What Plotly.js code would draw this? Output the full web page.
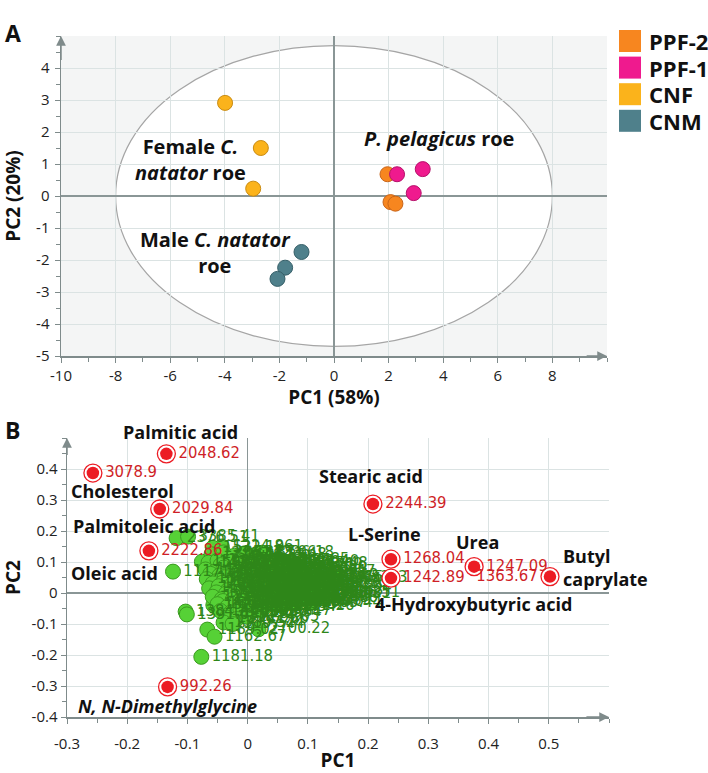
<!DOCTYPE html>
<html>
<head>
<meta charset="utf-8">
<script src="https://cdn.plot.ly/plotly-3.0.1.min.js"></script>
<style>html,body{margin:0;padding:0;background:#fff;}#chart{width:708px;height:773px;}</style>
</head>
<body>
<div id="chart"></div>
<script>
// ---------- Panel A: PCA scores ----------
const groups = ['PPF-2', 'PPF-1', 'CNF', 'CNM'];
const ppf2X = [1.96, 2.07, 2.25];
const ppf2Y = [0.68, -0.19, -0.24];
const ppf1X = [2.31, 3.25, 2.92];
const ppf1Y = [0.68, 0.84, 0.09];
const cnfX = [-3.99, -2.68, -2.96];
const cnfY = [2.91, 1.50, 0.23];
const cnmX = [-1.19, -1.79, -2.07];
const cnmY = [-1.75, -2.24, -2.59];
const xTicksA = [-10, -8, -6, -4, -2, 0, 2, 4, 6, 8];
const yTicksA = [-5, -4, -3, -2, -1, 0, 1, 2, 3, 4];

// ---------- Panel B: PCA loadings ----------
const redX = [-0.257, -0.135, -0.146, -0.164, 0.208, 0.238, 0.238, 0.376, 0.502, -0.133];
const redY = [0.387, 0.449, 0.271, 0.136, 0.287, 0.109, 0.048, 0.085, 0.053, -0.303];
const redLabel = ['3078.9', '2048.62', '2029.84', '2222.86', '2244.39', '1268.04', '1242.89', '1247.09', '1363.67', '992.26'];

const greenX = [-0.118, -0.099, -0.124, -0.076, -0.103, -0.101, -0.057, -0.067, -0.055, -0.077, 0.018, -0.043, 0.146, 0.134, 0.104,
  -0.058,
  -0.060, -0.040, -0.022, -0.005, 0.012, 0.024,
  -0.065, -0.050, -0.032, -0.015, 0.002, 0.018, 0.035, 0.050, 0.066, 0.080,
  -0.045, -0.028, -0.012, 0.006, 0.026, 0.044, 0.059, 0.072,
  -0.070, -0.055, -0.040, -0.025, -0.010, 0.006, 0.021, 0.036, 0.050, 0.064, 0.079, 0.093,
  -0.062, -0.047, -0.031, -0.015, 0.000, 0.016, 0.031, 0.046, 0.062, 0.081, 0.098,
  -0.068, -0.052, -0.038, -0.022, -0.006, 0.009, 0.025, 0.041, 0.057, 0.072, 0.088, 0.103, 0.117,
  -0.058, -0.041, -0.025, -0.009, 0.006, 0.021, 0.037, 0.052, 0.067, 0.083, 0.099, 0.113,
  -0.064, -0.048, -0.033, -0.017, -0.002, 0.013, 0.029, 0.044, 0.060, 0.075, 0.091, 0.106, 0.120,
  -0.052, -0.036, -0.019, -0.004, 0.012, 0.027, 0.043, 0.058, 0.073, 0.089, 0.104, 0.119,
  -0.058, -0.043, -0.027, -0.011, 0.004, 0.020, 0.035, 0.051, 0.066, 0.082, 0.097,
  -0.041, -0.025, -0.009, 0.007, 0.022, 0.038, 0.053, 0.069, 0.086,
  -0.050, -0.034, -0.018, -0.003, 0.013, 0.028, 0.043, 0.058, 0.074,
  -0.045, -0.028, -0.012, 0.004, 0.020,
  -0.035, -0.018, 0.000,
  -0.040, -0.025];
const greenY = [0.177, 0.182, 0.069, 0.101, -0.060, -0.069, -0.039, -0.118, -0.141, -0.206, -0.117, 0.150, 0.048, 0.000, -0.032,
  0.146,
  0.125, 0.131, 0.120, 0.128, 0.122, 0.130,
  0.098, 0.105, 0.095, 0.108, 0.099, 0.104, 0.096, 0.108, 0.100, 0.094,
  0.090, 0.100, 0.092, 0.088, 0.093, 0.089, 0.086, 0.090,
  0.076, 0.068, 0.082, 0.070, 0.079, 0.072, 0.084, 0.069, 0.078, 0.071, 0.082, 0.068,
  0.062, 0.056, 0.062, 0.066, 0.060, 0.063, 0.057, 0.066, 0.060, 0.058, 0.056,
  0.045, 0.038, 0.051, 0.042, 0.049, 0.037, 0.047, 0.040, 0.052, 0.039, 0.046, 0.041, 0.050,
  0.031, 0.034, 0.029, 0.035, 0.027, 0.032, 0.028, 0.033, 0.029, 0.034, 0.030, 0.033,
  0.015, 0.022, 0.009, 0.018, 0.024, 0.011, 0.020, 0.007, 0.019, 0.012, 0.021, 0.008, 0.016,
  0.002, -0.002, 0.004, -0.001, 0.003, -0.003, 0.002, -0.002, 0.003, -0.002, 0.001, -0.004,
  -0.012, -0.020, -0.008, -0.016, -0.010, -0.022, -0.006, -0.014, -0.021, -0.009, -0.017,
  -0.026, -0.022, -0.028, -0.024, -0.030, -0.025, -0.029, -0.012, -0.025,
  -0.036, -0.045, -0.031, -0.041, -0.034, -0.046, -0.037, -0.043, -0.030,
  -0.058, -0.063, -0.055, -0.061, -0.057,
  -0.079, -0.084, -0.077,
  -0.095, -0.100];
const greenLabel = ['2376.51', '3385.41', '1117.52', '1598.33', '1384.27', '1391.05', '1520.64', '1189.02', '1162.67', '1181.18', '2700.22', '1214.861', '1455.03', '1736.51', '1605.44',
  '1532.19',
  '1276.44', '2051.87', '1648.25', '1873.06', '1573.48', '1226.18',
  '1419.73', '1356.90', '2105.33', '1702.61', '1288.12', '1932.57', '1457.09', '1364.85', '1821.40', '1357.48',
  '1592.77', '1345.12', '2241.06', '1468.35', '1719.84', '1283.57', '1936.21', '1408.69',
  '1173.26', '1468.91', '1995.14', '1312.77', '1749.02', '2163.58', '1407.36', '1586.20', '1239.65', '1671.93', '2218.30', '1502.47',
  '1356.48', '1873.92', '1227.30', '1654.83', '1391.74', '2078.15', '1512.66', '1264.09', '1789.52', '1347.81', '1626.43',
  '1334.58', '1621.05', '1806.49', '1258.73', '1944.16', '1385.62', '1723.84', '1297.31', '2089.75', '1438.60', '1655.27', '1211.94', '1879.53',
  '1415.27', '1947.60', '1302.18', '1568.94', '1835.67', '1254.41', '1691.08', '1443.25', '2017.56', '1371.92', '1549.13', '1289.70',
  '1548.36', '1267.80', '1962.42', '1403.19', '1788.65', '1325.07', '2012.88', '1476.53', '1614.29', '1283.91', '1835.12', '1519.68', '1692.04',
  '1725.38', '1338.64', '1902.47', '1476.19', '1261.83', '1614.57', '1383.06', '1847.29', '1532.84', '1297.65', '1718.42', '1406.31',
  '1236.47', '1758.83', '1449.20', '2136.71', '1371.56', '1596.38', '1249.95', '1917.62', '1427.14', '1683.49', '1302.86',
  '1583.97', '1214.52', '1967.38', '1432.86', '1705.14', '1268.73', '1891.40', '1355.26', '1641.89',
  '1862.23', '1344.70', '1571.97', '1223.35', '1986.08', '1412.54', '1637.81', '1291.26', '1768.40',
  '1463.72', '1205.59', '1849.31', '1396.84', '1628.17',
  '1318.93', '1741.66', '1274.05',
  '1380.52', '1197.44'];
const xTicksB = [-0.3, -0.2, -0.1, 0, 0.1, 0.2, 0.3, 0.4, 0.5];
const yTicksB = [-0.4, -0.3, -0.2, -0.1, 0, 0.1, 0.2, 0.3, 0.4];

// ---------- styles ----------
const colA = {'PPF-2': '#f7861f', 'PPF-1': '#ef1a8e', 'CNF': '#fbb31b', 'CNM': '#4f808b'};
const lineA = {'PPF-2': '#c8651a', 'PPF-1': '#b5106a', 'CNF': '#c98b12', 'CNM': '#365f68'};
const RED = '#ec1c24', REDTXT = '#cf1f27', GFILL = '#56d136', GLINE = '#3a9a1f', GTXT = '#2e8619';
const AX = '#7f8b8b', GRID = '#dbe3e3', ZERO = '#8a9696';
const FONT = 'Open Sans, Noto Sans, sans-serif';
const NARROW = 'DejaVu Sans Condensed, Liberation Sans Narrow, sans-serif';
const W = 708, H = 773;
const px = v => v / W, py = v => 1 - v / H;

function grpTrace(name, xs, ys) {
  return {type: 'scatter', mode: 'markers', x: xs, y: ys, xaxis: 'x', yaxis: 'y', name: name, showlegend: false,
    marker: {size: 15, color: colA[name], line: {color: lineA[name], width: 1}}, cliponaxis: false};
}
const traces = [
  grpTrace('CNF', cnfX, cnfY),
  grpTrace('CNM', cnmX, cnmY),
  grpTrace('PPF-2', ppf2X, ppf2Y),
  grpTrace('PPF-1', ppf1X, ppf1Y),
  {type: 'scatter', mode: 'markers+text', x: greenX, y: greenY, text: greenLabel, textposition: 'middle right',
    xaxis: 'x2', yaxis: 'y2', showlegend: false, cliponaxis: false,
    textfont: {family: NARROW, size: 16.5, color: GTXT},
    marker: {size: 15, color: GFILL, line: {color: GLINE, width: 1}}},
  {type: 'scatter', mode: 'markers+text', x: redX, y: redY, text: redLabel,
    textposition: redLabel.map(l => l === '1363.67' ? 'middle left' : 'middle right'),
    xaxis: 'x2', yaxis: 'y2', showlegend: false, cliponaxis: false,
    textfont: {family: NARROW, size: 16.5, color: REDTXT},
    marker: {size: 18, color: '#ffffff', line: {color: RED, width: 1.3}}},
  {type: 'scatter', mode: 'markers', x: redX, y: redY, xaxis: 'x2', yaxis: 'y2', showlegend: false, cliponaxis: false,
    marker: {size: 12.5, color: RED, line: {width: 0}}}
];

const tickFont = {family: FONT, size: 15, color: '#222'};
function axisBase(extra) {
  return Object.assign({
    showgrid: true, gridcolor: GRID, gridwidth: 1,
    zeroline: true, zerolinecolor: ZERO, zerolinewidth: 1.5,
    showline: true, linecolor: AX, linewidth: 1.5,
    ticks: 'outside', ticklen: 5, tickcolor: AX, tickwidth: 1,
    tickfont: tickFont, fixedrange: true, automargin: false
  }, extra);
}
const fmtB = v => (v === 0 ? '0' : String(v));

const annotations = [];
function arrow(xr, yr, x, y, ax, ay) {
  annotations.push({xref: xr, yref: yr, axref: xr, ayref: yr, x: x, y: y, ax: ax, ay: ay, text: '',
    showarrow: true, arrowhead: 2, arrowsize: 1.3, arrowwidth: 1.5, arrowcolor: AX, standoff: 0});
}
arrow('x', 'y', -10, 5, -10, 4.2);
arrow('x', 'y', 10, -5, 9.2, -5);
arrow('x2', 'y2', -0.3, 0.5, -0.3, 0.44);
arrow('x2', 'y2', 0.6, -0.4, 0.56, -0.4);

function note(xr, yr, x, y, text, size, extra) {
  annotations.push(Object.assign({xref: xr, yref: yr, x: x, y: y, text: text, showarrow: false,
    font: {family: FONT, size: size, color: '#111'}}, extra || {}));
}
// panel letters
note('paper', 'paper', px(3), py(15), '<b>A</b>', 23, {xanchor: 'left'});
note('paper', 'paper', px(3), py(430), '<b>B</b>', 23, {xanchor: 'left'});
// panel A group labels
note('x', 'y', -5.26, 1.15, '<b>Female <i>C.</i><br><i>natator</i> roe</b>', 20);
note('x', 'y', 3.83, 1.8, '<b><i>P. pelagicus</i> roe</b>', 20);
note('x', 'y', -4.34, -1.78, '<b>Male <i>C. natator</i><br>roe</b>', 20);
// panel B compound names
note('x2', 'paper', -0.111, py(432), '<b>Palmitic acid</b>', 18);
note('x2', 'y2', -0.208, 0.328, '<b>Cholesterol</b>', 18);
note('x2', 'y2', -0.172, 0.217, '<b>Palmitoleic acid</b>', 18);
note('x2', 'y2', -0.221, 0.066, '<b>Oleic acid</b>', 18);
note('x2', 'y2', 0.204, 0.379, '<b>Stearic acid</b>', 18);
note('x2', 'y2', 0.228, 0.190, '<b>L-Serine</b>', 18);
note('x2', 'y2', 0.381, 0.166, '<b>Urea</b>', 18);
note('x2', 'y2', 0.520, 0.081, '<b>Butyl<br>caprylate</b>', 18, {xanchor: 'left', align: 'left'});
note('x2', 'y2', 0.375, -0.036, '<b>4-Hydroxybutyric acid</b>', 18);
note('x2', 'y2', -0.133, -0.366, '<b><i>N, N-Dimethylglycine</i></b>', 18);

// legend (manual swatches)
const shapes = [
  {type: 'rect', xref: 'x domain', yref: 'y domain', x0: 0, x1: 1, y0: 0, y1: 1, fillcolor: '#f4f5f5', line: {width: 0}, layer: 'below'},
  {type: 'circle', xref: 'x', yref: 'y', x0: -8, x1: 8, y0: -4.7, y1: 4.7, fillcolor: '#ffffff', line: {color: '#a5a5a5', width: 1.2}, layer: 'below'}
];
groups.forEach((g, i) => {
  const cy = 41 + i * 26.6;
  shapes.push({type: 'rect', xref: 'paper', yref: 'paper', x0: px(619), x1: px(641), y0: py(cy + 11), y1: py(cy - 11),
    fillcolor: colA[g], line: {width: 0}});
  note('paper', 'paper', px(647), py(cy), '<b>' + g + '</b>', 22, {xanchor: 'left', yanchor: 'middle'});
});

const layout = {
  width: W, height: H, margin: {l: 0, r: 0, t: 0, b: 0},
  paper_bgcolor: '#ffffff', plot_bgcolor: '#ffffff',
  font: {family: FONT, color: '#111'},
  showlegend: false, hovermode: false,
  xaxis: axisBase({domain: [px(61), px(607)], range: [-10, 10], anchor: 'y',
    tickmode: 'array', tickvals: xTicksA, ticktext: xTicksA.map(String),
    minor: {tickmode: 'linear', tick0: 0, dtick: 1, ticks: 'outside', ticklen: 4, tickcolor: AX, showgrid: false},
    title: {text: '<b>PC1 (58%)</b>', font: {family: FONT, size: 19, color: '#111'}, standoff: 7}}),
  yaxis: axisBase({domain: [py(356), py(36)], range: [-5, 5], anchor: 'x',
    tickmode: 'array', tickvals: yTicksA, ticktext: yTicksA.map(String), ticklabelstandoff: 2,
    minor: {tickmode: 'linear', tick0: 0, dtick: 0.5, ticks: 'outside', ticklen: 4, tickcolor: AX, showgrid: false},
    title: {text: '<b>PC2 (20%)</b>', font: {family: FONT, size: 19, color: '#111'}, standoff: 12}}),
  xaxis2: axisBase({domain: [px(67), px(609)], range: [-0.3, 0.6], anchor: 'y2',
    tickmode: 'array', tickvals: xTicksB, ticktext: xTicksB.map(fmtB), ticklabelstandoff: 7,
    minor: {tickmode: 'linear', tick0: 0, dtick: 0.05, ticks: 'outside', ticklen: 4, tickcolor: AX, showgrid: false},
    title: {text: '<b>PC1</b>', font: {family: FONT, size: 19, color: '#111'}, standoff: 10}}),
  yaxis2: axisBase({domain: [py(717), py(438)], range: [-0.4, 0.5], anchor: 'x2',
    tickmode: 'array', tickvals: yTicksB, ticktext: yTicksB.map(fmtB),
    minor: {tickmode: 'linear', tick0: 0, dtick: 0.05, ticks: 'outside', ticklen: 4, tickcolor: AX, showgrid: false},
    title: {text: '<b>PC2</b>', font: {family: FONT, size: 19, color: '#111'}, standoff: 12}}),
  shapes: shapes,
  annotations: annotations
};

Plotly.newPlot('chart', traces, layout, {staticPlot: true, displayModeBar: false});
</script>
</body>
</html>
